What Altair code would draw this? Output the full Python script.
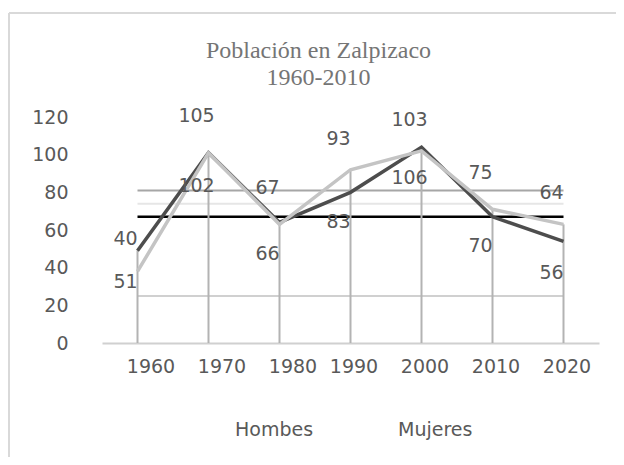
import altair as alt
import pandas as pd

years = [1960, 1970, 1980, 1990, 2000, 2010, 2020]
series = ["Hombes", "Mujeres"]
hombres = [49, 101, 64, 80, 104, 67, 54]
mujeres = [38, 101, 63, 92, 102, 71, 63]
etiquetas_hombres = [51, 102, 66, 83, 106, 70, 56]
etiquetas_mujeres = [40, 105, 67, 93, 103, 75, 64]
y_ticks = [0, 20, 40, 60, 80, 100, 120]
niveles = [81, 74, 67, 25]

FONT = "DejaVu Sans"
GRAY = "#595959"

lines_df = pd.DataFrame({
    "year": years * 2,
    "serie": [series[0]] * len(years) + [series[1]] * len(years),
    "valor": hombres + mujeres,
})
lab_h = pd.DataFrame({"year": years, "valor": etiquetas_hombres})
lab_m = pd.DataFrame({"year": years, "valor": etiquetas_mujeres})
drop_df = pd.DataFrame({"year": years, "valor": [max(a, b) for a, b in zip(hombres, mujeres)]})
lvl_df = pd.DataFrame({"nivel": niveles, "x0": [years[0]] * len(niveles), "x1": [years[-1]] * len(niveles)})

xscale = alt.Scale(domain=[1955, 2025], nice=False, zero=False)
yscale = alt.Scale(domain=[0, 120], nice=False)

xaxis = alt.Axis(values=years, format="d", title=None, ticks=False, grid=False,
                 labelFont=FONT, labelFontSize=19, labelColor=GRAY, labelPadding=14,
                 labelOffset=alt.condition("datum.value <= 1980", alt.value(13), alt.value(3)),
                 domainColor="#d0d0d0", domainWidth=2)
yaxis = alt.Axis(values=y_ticks, title=None, ticks=False, grid=False, domain=False,
                 labelFont=FONT, labelFontSize=19, labelColor=GRAY, labelPadding=34)

one = pd.DataFrame({"k": [0]})
frame_top = alt.Chart(one).mark_rule(color="#d9d9d9", strokeWidth=2).encode(
    x=alt.value(-93), x2=alt.value(560), y=alt.value(-104))
frame_left = alt.Chart(one).mark_rule(color="#d9d9d9", strokeWidth=2).encode(
    x=alt.value(-93), y=alt.value(-104), y2=alt.value(400))

level_styles = [("#a6a6a6", 2), ("#e6e6e6", 2), ("#000000", 2.5), ("#d0d0d0", 2)]
level_layers = []
for v, (c, w) in zip(niveles, level_styles):
    level_layers.append(
        alt.Chart(lvl_df).transform_filter(alt.datum.nivel == v).mark_rule(color=c, strokeWidth=w).encode(
            x=alt.X("x0:Q", scale=xscale, axis=xaxis),
            x2="x1:Q",
            y=alt.Y("nivel:Q", scale=yscale, axis=yaxis),
        )
    )

drops = alt.Chart(drop_df).mark_rule(color="#b3b3b3", strokeWidth=2).encode(
    x=alt.X("year:Q", scale=xscale, axis=xaxis),
    y=alt.Y("valor:Q", scale=yscale, axis=yaxis),
    y2=alt.datum(0),
)

lines = alt.Chart(lines_df).mark_line(strokeWidth=3.5).encode(
    x=alt.X("year:Q", scale=xscale, axis=xaxis),
    y=alt.Y("valor:Q", scale=yscale, axis=yaxis),
    color=alt.Color("serie:N", scale=alt.Scale(domain=series, range=["#4d4d4d", "#c4c4c4"]),
                    legend=alt.Legend(title=None, orient="none", legendX=114, legendY=303,
                                      direction="horizontal", symbolOpacity=0, symbolSize=1,
                                      symbolStrokeWidth=0, labelOffset=0, columnPadding=65,
                                      labelFont=FONT, labelFontSize=19, labelColor=GRAY)),
)

text_h = alt.Chart(lab_h).mark_text(font=FONT, fontSize=19, color=GRAY, dx=-12, dy=35,
                                    baseline="middle").encode(
    x=alt.X("year:Q", scale=xscale, axis=xaxis),
    y=alt.Y("valor:Q", scale=yscale, axis=yaxis),
    text="valor:Q",
)
text_m = alt.Chart(lab_m).mark_text(font=FONT, fontSize=19, color=GRAY, dx=-12, dy=-29,
                                    baseline="middle").encode(
    x=alt.X("year:Q", scale=xscale, axis=xaxis),
    y=alt.Y("valor:Q", scale=yscale, axis=yaxis),
    text="valor:Q",
)

chart = alt.layer(frame_top, frame_left, *level_layers, drops, lines, text_h, text_m).properties(
    width=497, height=226,
    autosize=alt.AutoSizeParams(type="none"),
    padding={"left": 94, "top": 109, "right": 17, "bottom": 114},
    title=alt.Title(["Población en Zalpizaco", "1960-2010"], font="Liberation Serif",
                    fontSize=24, fontWeight="normal", color="#757575", lineHeight=27,
                    anchor="middle", frame="group", dx=-32, offset=-78),
).configure_view(stroke=None)

chart.save("out.html", embed_options={"renderer": "svg", "actions": False})
